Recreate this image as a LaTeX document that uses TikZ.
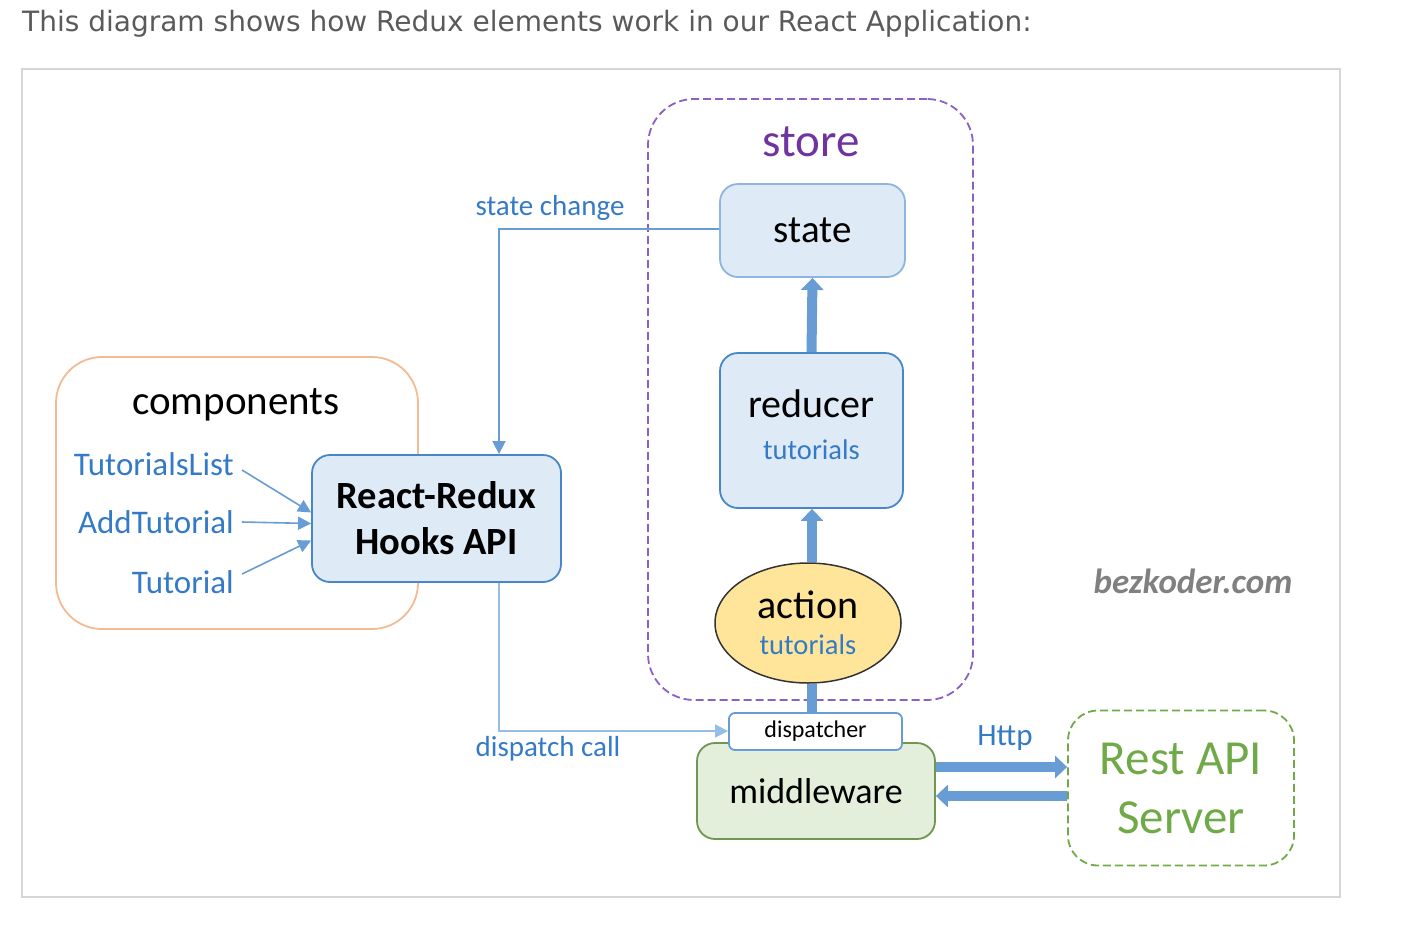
\documentclass[tikz,border=0pt]{standalone}
\usepackage{fontspec}
\setmainfont{Carlito}
\newfontfamily\capfont{DejaVu Sans}
\usepackage{tikz}
\usetikzlibrary{arrows.meta,calc,shapes.geometric}
\definecolor{ink}{RGB}{90,90,90}
\definecolor{frame}{RGB}{214,214,214}
\definecolor{lblue}{RGB}{52,122,198}
\definecolor{bfill}{RGB}{222,234,246}
\definecolor{bstroke}{RGB}{72,134,202}
\definecolor{bpale}{RGB}{143,180,222}
\definecolor{fat}{RGB}{104,156,212}
\definecolor{thinpale}{RGB}{150,190,228}
\definecolor{orng}{RGB}{244,186,146}
\definecolor{purp}{RGB}{140,96,196}
\definecolor{purptext}{RGB}{112,52,160}
\definecolor{gfill}{RGB}{227,239,218}
\definecolor{gstroke}{RGB}{112,150,82}
\definecolor{gtext}{RGB}{112,170,72}
\definecolor{yfill}{RGB}{255,229,153}
\tikzset{
  box/.style={
    draw=#1, line width=1.8pt, rounded corners=18pt,
    align=center, inner sep=0pt,
  },
  box/.default=bstroke,
  grp/.style={
    draw=#1, line width=1.8pt, rounded corners=46pt, inner sep=0pt,
  },
  dsh/.style={dash pattern=on 8pt off 4pt},
  lbl/.style={text=lblue, font=\fontsize{33}{38}\selectfont, inner sep=2pt},
  tag/.style={text=lblue, font=\fontsize{29}{34}\selectfont, inner sep=0pt},
  thinarr/.style={-{Triangle[length=13pt,width=13pt]}, line width=1.6pt, draw=#1},
  thinarr/.default=fat,
  fatarr/.style={-{Triangle[length=12pt,width=22pt]}, line width=10pt, draw=fat},
}

\begin{document}
\begin{tikzpicture}[x=1pt,y=-1pt]
  \useasboundingbox (0,0) rectangle (1422,946);

  \node[anchor=west, font=\capfont\fontsize{28}{32}\selectfont, text=ink, inner sep=0pt] (cap) at (22,24)
    {This diagram shows how Redux elements work in our React Application:};
  \draw[frame, line width=1.5pt] (22,69) rectangle (1340,897);

  % groups
  \node[grp=orng, minimum width=362pt, minimum height=272pt] (comp) at (237,493) {};
  \node[font=\fontsize{41}{48}\selectfont, inner sep=0pt] (compt) at (236,405) {components};
  \node[grp=purp, dsh, minimum width=325pt, minimum height=601pt] (store) at (810.5,399.5) {};
  \node[font=\fontsize{47}{54}\selectfont, text=purptext, inner sep=0pt] (storet) at (811,142) {store};
  \node[grp=gtext, dsh, rounded corners=30pt, minimum width=226pt, minimum height=155pt,
    align=center, text=gtext, font=\fontsize{49}{59}\selectfont] (rest) at (1181,788) {Rest API\\Server};

  % components
  \node[lbl, anchor=east] (tlist) at (236,464) {TutorialsList};
  \node[lbl, anchor=east] (tadd) at (236,522) {AddTutorial};
  \node[lbl, anchor=east] (tone) at (236,582) {Tutorial};
  \node[box, fill=bfill, minimum width=249pt, minimum height=127pt,
    font=\fontsize{38.5}{46}\selectfont\bfseries] (hooks) at (436.5,518.5) {React-Redux\\Hooks API};
  \draw[thinarr] ([xshift=6pt,yshift=-6pt]tlist.east) -- ([yshift=6pt]hooks.west);
  \draw[thinarr] ([xshift=6pt]tadd.east) -- ([yshift=-5pt]hooks.west);
  \draw[thinarr] ([xshift=6pt,yshift=8pt]tone.east) -- ([yshift=-22pt]hooks.west);

  % store
  \node[box=bpale, fill=bfill, minimum width=185pt, minimum height=93pt,
    font=\fontsize{39}{46}\selectfont] (state) at (812.5,230.5) {state};
  \node[box, fill=bfill, minimum width=183pt, minimum height=155pt,
    font=\fontsize{40}{46}\selectfont] (red) at (811.5,430.5)
    {reducer\\[-4pt]{\fontsize{28.5}{30}\selectfont\color{lblue}tutorials}\\[-49pt]\strut};
  \node[ellipse, draw=black!80, line width=1.5pt, fill=yfill, minimum width=186pt, minimum height=120pt,
    align=center, inner sep=0pt, font=\fontsize{40}{42}\selectfont] (act) at (808,623)
    {action\\[-6pt]{\fontsize{28.5}{30}\selectfont\color{lblue}tutorials}};
  \draw[fatarr] (red.north) -- (state.south);
  \draw[fatarr] (act.north -| 812,0) -- (red.south -| 812,0);

  % middleware
  \node[box=gstroke, fill=gfill, minimum width=238pt, minimum height=96pt,
    font=\fontsize{36}{42}\selectfont] (mid) at (816,791) {\raisebox{-4pt}{middleware}};
  \draw[line width=10pt, draw=fat] (act.south -| 812,0) -- (812,713);
  \node[box=fat, fill=white, rounded corners=6pt, minimum width=173pt, minimum height=37pt,
    font=\fontsize{24}{28}\selectfont] (disp) at (815.5,731.5) {dispatcher};
  \draw[fatarr] ([yshift=24pt]mid.east) -- ([yshift=24pt]mid.east -| rest.west);
  \draw[fatarr] ([yshift=-5pt]mid.east -| rest.west) -- ([yshift=-5pt]mid.east);
  \node[tag, font=\fontsize{31}{36}\selectfont] (http) at (1005,738) {Http};

  % flows
  \coordinate (scx) at (499,229);
  \draw[thinarr] (state.west |- scx) -- (scx) -- (scx |- hooks.north);
  \node[tag] (sct) at (550,208) {state change};
  \coordinate (dcx) at (499,731);
  \draw[thinarr=thinpale] (hooks.south -| dcx) -- (dcx) -- (disp.west |- dcx);
  \node[tag] (dct) at (548,749) {dispatch call};

  \node[font=\fontsize{35}{40}\selectfont\bfseries\itshape, text=black!50, inner sep=0pt] (site) at (1193,581) {bezkoder.com};
\end{tikzpicture}
\end{document}
